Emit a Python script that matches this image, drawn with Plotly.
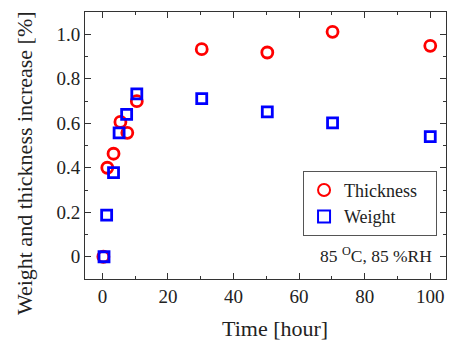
import plotly.graph_objects as go

time_thick = [0.3, 1.5, 3.4, 5.5, 7.6, 10.5, 30.3, 50.3, 70.2, 100]
thickness = [0.0, 0.40, 0.463, 0.606, 0.557, 0.699, 0.933, 0.918, 1.011, 0.948]
time_weight = [0.5, 1.3, 3.4, 5.1, 7.4, 10.5, 30.3, 50.3, 70.2, 100]
weight = [0.0, 0.187, 0.378, 0.557, 0.64, 0.732, 0.711, 0.651, 0.602, 0.540]

x_ticks = [0, 20, 40, 60, 80, 100]
y_ticks = [0, 0.2, 0.4, 0.6, 0.8, 1.0]
y_tick_labels = ["0", "0.2", "0.4", "0.6", "0.8", "1.0"]

FONT = "Liberation Serif"
PAD = "\u00a0\u00a0\u00a0"

fig = go.Figure()
fig.add_trace(go.Scatter(
    x=time_thick, y=thickness, mode="markers", name="Thickness" + PAD,
    marker=dict(symbol="circle-open", size=11, color="#ff0000", line=dict(width=2.8, color="#ff0000")),
))
fig.add_trace(go.Scatter(
    x=time_weight, y=weight, mode="markers", name="Weight",
    marker=dict(symbol="square-open", size=10, color="#0000ff", line=dict(width=2.8, color="#0000ff")),
))

axis_common = dict(
    showgrid=False, zeroline=False, showline=True, linecolor="#333333", linewidth=1,
    mirror="ticks", ticks="inside", ticklen=6, tickcolor="#333333", tickwidth=1,
    tickfont=dict(family=FONT, size=19, color="#222222"),
    automargin=False,
)
fig.update_xaxes(
    range=[-5.3, 104.8], tickvals=x_ticks,
    minor=dict(dtick=10, ticks="inside", ticklen=3, tickcolor="#333333"),
    **axis_common,
)
fig.update_yaxes(
    range=[-0.1, 1.1], tickvals=y_ticks, ticktext=y_tick_labels,
    minor=dict(dtick=0.1, tick0=0, ticks="inside", ticklen=3, tickcolor="#333333"),
    **axis_common,
)
# axis titles (placed as annotations to match the reference offsets)
fig.add_annotation(
    x=0.527, y=0, xref="paper", yref="paper", xanchor="center", yanchor="middle",
    yshift=-49, text="Time [hour]", showarrow=False,
    font=dict(family=FONT, size=22, color="#222222"),
)
fig.add_annotation(
    x=0, y=0.434, xref="paper", yref="paper", xanchor="center", yanchor="middle",
    xshift=-61, textangle=-90, text="Weight and thickness increase [%]", showarrow=False,
    font=dict(family=FONT, size=22, color="#222222"),
)
fig.add_annotation(
    x=0.966, y=0.090, xref="paper", yref="paper", xanchor="right", yanchor="middle",
    text="85 <sup>O</sup>C, 85 %RH", showarrow=False,
    font=dict(family=FONT, size=17.5, color="#222222"),
)
fig.update_layout(
    width=450, height=343,
    margin=dict(l=85, r=4, t=12, b=64),
    paper_bgcolor="white", plot_bgcolor="white",
    showlegend=True,
    legend=dict(
        x=0.604, y=0.405, xanchor="left", yanchor="top",
        bordercolor="#555555", borderwidth=1, bgcolor="white",
        font=dict(family=FONT, size=18, color="#222222"),
        tracegroupgap=0, itemsizing="constant",
    ),
)
fig.write_html("out.html", config={"displayModeBar": False},
               post_script="document.body.style.margin='0';")
